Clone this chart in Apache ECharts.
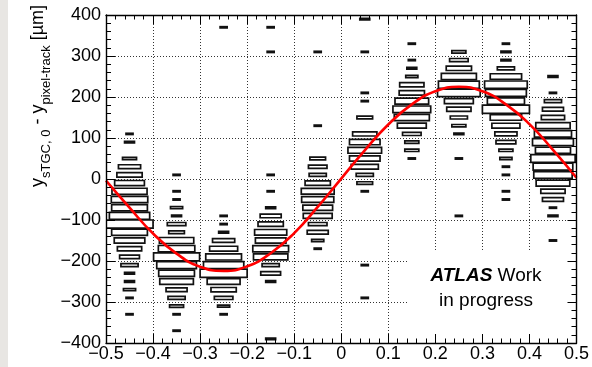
<!DOCTYPE html>
<html>
<head>
<meta charset="utf-8">
<script src="https://cdn.jsdelivr.net/npm/echarts@6/dist/echarts.min.js"></script>
<style>
  html, body { margin: 0; padding: 0; background: #ffffff; }
  #chart { width: 592px; height: 367px; }
</style>
</head>
<body>
<div id="chart"></div>
<script>
// Axis tick labels
const xTickLabels = ['\u22120.5', '\u22120.4', '\u22120.3', '\u22120.2', '\u22120.1', '0', '0.1', '0.2', '0.3', '0.4', '0.5'];
const yTickLabels = ['\u2212400', '\u2212300', '\u2212200', '\u2212100', '0', '100', '200', '300', '400'];

// Histogram binning: 10 bins in x, 20 um bins in y
const xBinCenters = [-0.45, -0.35, -0.25, -0.15, -0.05, 0.05, 0.15, 0.25, 0.35, 0.45];
const xBinWidth = 0.1;
const yBinWidth = 20;

// Entries per column: [y bin centre (um), entries]
const binsXm045 = [[110, 1], [90, 2], [50, 4], [30, 10], [10, 13], [-10, 18], [-30, 25], [-50, 27], [-70, 26], [-90, 33], [-110, 45], [-130, 26], [-150, 19], [-170, 12], [-190, 8], [-210, 6], [-230, 2], [-250, 2], [-270, 3], [-290, 1], [-330, 1]];
const binsXm035 = [[10, 1], [-30, 1], [-50, 1], [-70, 3], [-90, 2], [-110, 7], [-130, 5], [-150, 24], [-170, 27], [-190, 43], [-210, 32], [-230, 26], [-250, 23], [-270, 9], [-290, 6], [-310, 4], [-330, 1], [-370, 1]];
const binsXm025 = [[370, 1], [-90, 1], [-110, 1], [-130, 2], [-150, 10], [-170, 16], [-190, 26], [-210, 33], [-230, 45], [-250, 22], [-270, 13], [-290, 7], [-310, 3], [-330, 1]];
const binsXm015 = [[370, 1], [310, 1], [10, 1], [-30, 1], [-70, 2], [-90, 9], [-110, 13], [-130, 21], [-150, 19], [-170, 26], [-190, 24], [-210, 6], [-230, 8], [-250, 2], [-390, 2]];
const binsXm005 = [[310, 1], [130, 1], [50, 5], [30, 7], [10, 6], [-10, 13], [-30, 22], [-50, 21], [-70, 18], [-90, 17], [-110, 7], [-130, 9], [-150, 3], [-170, 1]];
const binsXp005 = [[390, 2], [310, 1], [210, 1], [190, 1], [150, 5], [110, 12], [90, 19], [70, 23], [50, 19], [30, 15], [10, 6], [-10, 5], [-30, 1], [-210, 1], [-290, 1]];
const binsXp015 = [[330, 1], [290, 1], [270, 2], [250, 3], [230, 12], [210, 13], [190, 23], [170, 29], [150, 25], [130, 17], [110, 7], [90, 4], [70, 4], [50, 1]];
const binsXp025 = [[310, 4], [290, 7], [270, 13], [250, 25], [230, 34], [210, 37], [190, 17], [170, 12], [150, 6], [130, 4], [110, 2], [50, 1], [-90, 1]];
const binsXp035 = [[330, 1], [310, 2], [290, 2], [270, 6], [250, 20], [230, 37], [210, 34], [190, 28], [170, 45], [150, 20], [130, 16], [110, 10], [90, 8], [70, 4], [50, 3], [30, 1], [10, 1], [-30, 1], [-50, 1]];
const binsXp045 = [[250, 2], [210, 1], [190, 6], [170, 9], [150, 11], [130, 24], [110, 28], [90, 34], [70, 25], [50, 40], [30, 32], [10, 30], [-10, 23], [-30, 12], [-50, 9], [-70, 1], [-90, 2], [-150, 1]];

// Sinusoidal fit, sampled along x
const fitX = [-0.5, -0.45, -0.4, -0.35, -0.3, -0.25, -0.2, -0.15, -0.1, -0.05, 0, 0.05, 0.1, 0.15, 0.2, 0.25, 0.3, 0.35, 0.4, 0.45, 0.5];
const fitY = [-4, -70, -133, -182, -214, -224, -213, -181, -132, -68, 1, 70, 133, 182, 214, 225, 214, 182, 134, 71, 3];

const columns = [binsXm045, binsXm035, binsXm025, binsXm015, binsXm005, binsXp005, binsXp015, binsXp025, binsXp035, binsXp045];
const boxData = [];
columns.forEach((col, i) => col.forEach(([y, n]) => boxData.push([xBinCenters[i], y, n])));
const countMax = Math.max(...boxData.map(d => d[2]));

const FONT = '"Liberation Sans", Arial, Helvetica, sans-serif';
const gridDots = { color: '#333', width: 1, type: [1, 2] };

function xLabel(v) { return xTickLabels[Math.round((v + 0.5) / 0.1)]; }
function yLabel(v) { return yTickLabels[Math.round((v + 400) / 100)]; }

const frameAxisCommon = {
  axisLine: { show: true, onZero: false, lineStyle: { color: '#000', width: 1.4 } },
  splitLine: { show: false },
  z: 5
};

const chart = echarts.init(document.getElementById('chart'), null, { renderer: 'canvas' });
chart.setOption({
  animation: false,
  backgroundColor: '#ffffff',
  grid: { left: 106, right: 12, top: 15, bottom: 24, containLabel: false },
  xAxis: [
    Object.assign({
      type: 'value', position: 'bottom', min: -0.5, max: 0.5, interval: 0.1,
      axisTick: { show: true, inside: true, length: 9, lineStyle: { color: '#000', width: 1 } },
      minorTick: { show: true, splitNumber: 5, length: 4.5, lineStyle: { color: '#000', width: 1 } },
      axisLabel: { show: true, formatter: xLabel, margin: 2, fontSize: 18, fontFamily: FONT, color: '#000', showMinLabel: true, showMaxLabel: true }
    }, frameAxisCommon),
    Object.assign({
      type: 'value', position: 'top', min: -0.5, max: 0.5, interval: 0.1,
      axisTick: { show: true, inside: true, length: 9, lineStyle: { color: '#000', width: 1 } },
      minorTick: { show: true, splitNumber: 5, length: 4.5, lineStyle: { color: '#000', width: 1 } },
      axisLabel: { show: false }
    }, frameAxisCommon),
    {
      type: 'value', position: 'bottom', min: -0.5, max: 0.5, interval: 0.1,
      axisLine: { show: false }, axisTick: { show: false }, axisLabel: { show: false },
      splitLine: { show: true, lineStyle: gridDots }, z: 0
    }
  ],
  yAxis: [
    Object.assign({
      type: 'value', position: 'left', min: -400, max: 400, interval: 100,
      axisTick: { show: true, inside: true, length: 9, lineStyle: { color: '#000', width: 1 } },
      minorTick: { show: true, splitNumber: 5, length: 5, lineStyle: { color: '#000', width: 1 } },
      axisLabel: { show: true, formatter: yLabel, margin: 5, fontSize: 18, fontFamily: FONT, color: '#000', showMinLabel: true, showMaxLabel: true }
    }, frameAxisCommon),
    Object.assign({
      type: 'value', position: 'right', min: -400, max: 400, interval: 100,
      axisTick: { show: true, inside: true, length: 9, lineStyle: { color: '#000', width: 1 } },
      minorTick: { show: true, splitNumber: 5, length: 5, lineStyle: { color: '#000', width: 1 } },
      axisLabel: { show: false }
    }, frameAxisCommon),
    {
      type: 'value', position: 'left', min: -400, max: 400, interval: 100,
      axisLine: { show: false }, axisTick: { show: false }, axisLabel: { show: false },
      splitLine: { show: true, lineStyle: gridDots }, z: 0
    }
  ],
  series: [
    {
      // box-style 2D histogram: box area proportional to bin entries
      type: 'custom',
      xAxisIndex: 0, yAxisIndex: 0,
      z: 2,
      clip: true,
      data: boxData,
      renderItem: function (params, api) {
        const x = api.value(0), y = api.value(1), n = api.value(2);
        const f = Math.sqrt(n / countMax);
        const p0 = api.coord([x - xBinWidth / 2 * f, y + yBinWidth / 2 * f]);
        const p1 = api.coord([x + xBinWidth / 2 * f, y - yBinWidth / 2 * f]);
        return {
          type: 'rect',
          shape: { x: p0[0], y: p0[1], width: p1[0] - p0[0], height: p1[1] - p0[1] },
          style: { fill: '#ffffff', stroke: '#111111', lineWidth: 1.7 }
        };
      }
    },
    {
      type: 'line',
      xAxisIndex: 0, yAxisIndex: 0,
      z: 3,
      data: fitX.map((x, i) => [x, fitY[i]]),
      smooth: 0.5,
      showSymbol: false,
      clip: true,
      lineStyle: { color: '#ff0000', width: 2.6 },
      silent: true
    }
  ],
  graphic: [
    { type: 'rect', left: 0, top: 0, z: 0, shape: { width: 8, height: 367 }, style: { fill: '#e8e6e3' } },
    { type: 'rect', x: 408, y: 252, z: 1, shape: { width: 160, height: 90 }, style: { fill: '#ffffff' } },
    {
      type: 'text', x: 486, y: 263, z: 6,
      style: {
        text: '{b|ATLAS}{n| Work}\n{n|in progress}',
        align: 'center', verticalAlign: 'top',
        rich: {
          b: { fontSize: 19, fontFamily: FONT, fontWeight: 'bold', fontStyle: 'italic', fill: '#000', lineHeight: 25 },
          n: { fontSize: 19, fontFamily: FONT, fill: '#000', lineHeight: 25 }
        }
      }
    },
    {
      type: 'text', x: 29, y: 5, z: 6, rotation: Math.PI / 2,
      style: {
        text: '{m|y}{s|sTGC, 0}{m| - y}{s|pixel-track}{m| [\u00b5m]}',
        align: 'right', verticalAlign: 'top',
        rich: {
          m: { fontSize: 18, fontFamily: FONT, fill: '#000', verticalAlign: 'top', lineHeight: 18 },
          s: { fontSize: 13, fontFamily: FONT, fill: '#000', verticalAlign: 'top', padding: [11, 0, 0, 0] }
        }
      }
    }
  ]
});
</script>
</body>
</html>
